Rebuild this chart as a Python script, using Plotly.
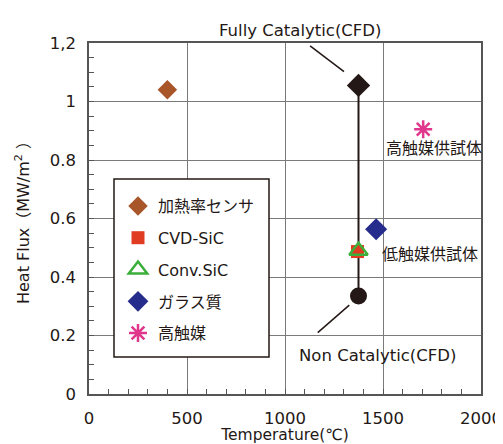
import plotly.graph_objects as go

# ---- data ----
series_names = ["加熱率センサ", "CVD-SiC", "Conv.SiC", "ガラス質", "高触媒"]
series_x = [[400], [1370], [1375], [1465], [1705]]
series_y = [[1.04], [0.487], [0.49], [0.563], [0.905]]

cfd_x = [1375, 1375]
cfd_y = [0.335, 1.055]  # Non catalytic, Fully catalytic

x_ticks = [0, 500, 1000, 1500, 2000]
x_tick_labels = ["0", "500", "1000", "1500", "2000"]
y_ticks = [0, 0.2, 0.4, 0.6, 0.8, 1.0, 1.2]
y_tick_labels = ["0", "0.2", "0.4", "0.6", "0.8", "1", "1,2"]

FONT = "DejaVu Sans, Noto Sans CJK JP"
INK = "#231815"
colors = ["#A8552A", "#E03C22", "#3CAE3A", "#262C8C", "#E0378C"]
symbols = ["diamond", "square", "triangle-up-open", "diamond", "asterisk-open"]
sizes = [15, 13, 16, 17, 15]
lws = [0, 0, 2.5, 0, 2.5]

# page body has an 8px margin; plot area should span x 89..481, y 43..394 in the window
OFF = 8

fig = go.Figure()

# CFD line + markers
fig.add_trace(go.Scatter(x=cfd_x, y=cfd_y, mode="lines", line=dict(color=INK, width=2),
                         showlegend=False, hoverinfo="skip"))
fig.add_trace(go.Scatter(x=[cfd_x[0]], y=[cfd_y[0]], mode="markers",
                         marker=dict(symbol="circle", size=17, color=INK), showlegend=False))
fig.add_trace(go.Scatter(x=[cfd_x[1]], y=[cfd_y[1]], mode="markers",
                         marker=dict(symbol="diamond", size=18, color=INK), showlegend=False))

for i, name in enumerate(series_names):
    fig.add_trace(go.Scatter(
        x=series_x[i], y=series_y[i], mode="markers", name=name, legendgroup=name,
        marker=dict(symbol=symbols[i], size=sizes[i], color=colors[i],
                    line=dict(color=colors[i], width=lws[i]))))

# legend frame
fig.add_shape(type="rect", xref="paper", yref="paper",
              x0=(114 - 89) / 392, x1=(269 - 89) / 392,
              y0=(394 - 357) / 351, y1=(394 - 179) / 351,
              line=dict(color=INK, width=1.5), fillcolor="white", layer="above")

# leader lines
fig.add_shape(type="line", x0=1128, y0=1.19, x1=1301, y1=1.102, line=dict(color=INK, width=1.5))
fig.add_shape(type="line", x0=1328, y0=0.304, x1=1167, y1=0.21, line=dict(color=INK, width=1.5))

ann_font = dict(family=FONT, size=16.5, color=INK)
jp_font = dict(family=FONT, size=16, color=INK)
fig.add_annotation(x=1077, y=(394 - 19) / 351, yref="paper", text="Fully Catalytic(CFD)",
                   showarrow=False, font=ann_font)
fig.add_annotation(x=1470, y=0.133, text="Non Catalytic(CFD)", showarrow=False, font=ann_font)
fig.add_annotation(x=1760, y=0.838, text="高触媒供試体", showarrow=False, font=jp_font)
fig.add_annotation(x=1738, y=0.478, text="低触媒供試体", showarrow=False, font=jp_font)

axis_common = dict(showline=True, linecolor="#555555", linewidth=1.5, mirror=True,
                   showgrid=True, gridcolor="#7a7a7a", gridwidth=1.3, zeroline=False,
                   ticks="inside", ticklen=5, tickcolor="#555555", automargin=False,
                   ticklabelstandoff=8,
                   tickfont=dict(family=FONT, size=16.5, color=INK))

fig.update_xaxes(range=[0, 2000], tickvals=x_ticks, ticktext=x_tick_labels,
                 minor=dict(dtick=100, ticks="inside", ticklen=5, tickcolor="#555555", showgrid=False),
                 title=dict(text="Temperature(℃)", font=dict(family=FONT, size=15.5, color=INK), standoff=6),
                 **axis_common)
fig.update_yaxes(range=[0, 1.2], tickvals=y_ticks, ticktext=y_tick_labels,
                 minor=dict(dtick=0.05, ticks="inside", ticklen=5, tickcolor="#555555", showgrid=False),
                 title=dict(text="Heat Flux（MW/m<sup>2</sup> ）", font=dict(family=FONT, size=16, color=INK), standoff=16),
                 **axis_common)

fig.update_layout(
    width=503 - OFF, height=444 - OFF,
    margin=dict(l=89 - OFF, r=22, t=43 - OFF, b=50, autoexpand=False),
    paper_bgcolor="white", plot_bgcolor="white",
    font=dict(family=FONT, color=INK),
    legend=dict(x=(118 - 89) / 392, y=(394 - 189) / 351, xanchor="left", yanchor="top",
                bgcolor="rgba(0,0,0,0)", borderwidth=0,
                font=dict(family=FONT, size=16, color=INK),
                tracegroupgap=8, itemwidth=30),
)

fig.write_html("out.html")
